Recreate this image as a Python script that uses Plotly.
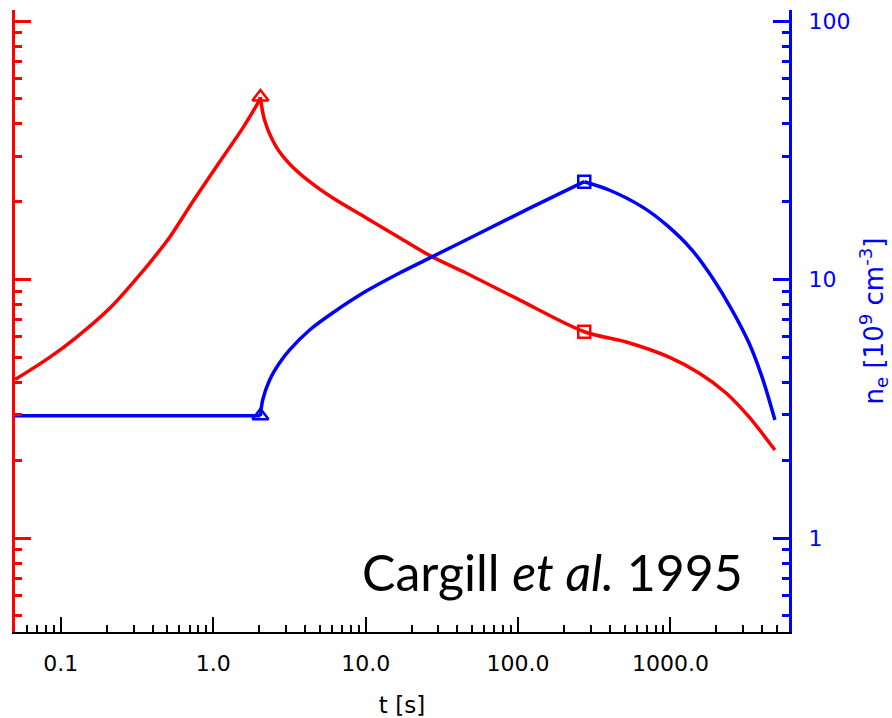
import plotly.graph_objects as go

# ---- data ----
t_T = [0.05, 0.0848, 0.127, 0.210, 0.314, 0.401, 0.519, 0.733, 1.10, 1.56, 1.96, 2.04,
       2.17, 2.59, 3.17, 4.29, 6.06, 10.1, 16.7, 26.2, 45.6, 97.0, 272, 513, 980, 1540,
       2317, 3280, 4850]
T_vals = [4.1, 5.01, 5.99, 7.76, 10.1, 12.0, 14.6, 20.0, 28.5, 38.5, 48.2, 50.8,
          41.4, 32.6, 28.0, 23.9, 20.7, 17.3, 14.5, 12.4, 10.6, 8.47, 6.28, 5.73, 5.01, 4.35,
          3.64, 2.94, 2.19]
T_peak_index = 11

t_n = [0.05, 2.04, 2.11, 2.34, 2.72, 3.17, 4.29, 6.06, 10.1, 16.7, 26.2, 58.4, 124, 272,
       396, 653, 938, 1387, 1876, 2537, 3280, 3990, 4850]
n_vals = [2.97, 2.97, 3.42, 4.08, 4.75, 5.34, 6.38, 7.42, 9.02, 10.6, 12.1, 15.3, 19.1, 23.9,
          22.2, 19.1, 16.3, 13.0, 10.2, 7.62, 5.68, 4.20, 2.86]
n_start_index = 1
n_peak_index = 13

tri_t = [2.04]
tri_T = [50.8]
tri_n = [2.97]
sq_t = [272]
sq_T = [6.28]
sq_n = [23.9]

x_tickvals = [0.1, 1, 10, 100, 1000]
x_ticktext = ["0.1", "1.0", "10.0", "100.0", "1000.0"]
y_tickvals = [1, 10, 100]
y_ticktext = ["1", "10", "100"]

RED = "#FF0000"
BLUE = "#0000FF"


def minor_vals(lo, hi):
    out = []
    for k in range(lo, hi + 1):
        for d in range(2, 10):
            out.append(d * 10 ** k)
    return out


def seg(xs, ys, a, b):
    return xs[a:b + 1], ys[a:b + 1]


fig = go.Figure()

segments = [
    (t_T, T_vals, 0, T_peak_index, RED, "y"),
    (t_T, T_vals, T_peak_index, len(t_T) - 1, RED, "y"),
    (t_n, n_vals, 0, n_start_index, BLUE, "y2"),
    (t_n, n_vals, n_start_index, n_peak_index, BLUE, "y2"),
    (t_n, n_vals, n_peak_index, len(t_n) - 1, BLUE, "y2"),
]
for xs, ys, a, b, col, ax in segments:
    sx, sy = seg(xs, ys, a, b)
    fig.add_trace(go.Scatter(x=sx, y=sy, mode="lines",
                             line=dict(color=col, width=3.5, shape="spline", smoothing=0.9),
                             yaxis=ax, showlegend=False, hoverinfo="skip"))

for xs, ys, sym, size, col, ax in [
    (tri_t, tri_T, "triangle-up-open", 14, RED, "y"),
    (sq_t, sq_T, "square-open", 12, RED, "y"),
    (tri_t, tri_n, "triangle-up-open", 14, BLUE, "y2"),
    (sq_t, sq_n, "square-open", 12, BLUE, "y2"),
]:
    fig.add_trace(go.Scatter(x=xs, y=ys, mode="markers", yaxis=ax, showlegend=False,
                             marker=dict(symbol=sym, size=size, color=col,
                                         line=dict(width=2.5, color=col))))

fig.update_layout(
    width=892, height=718,
    margin=dict(l=15, r=103, t=10, b=86),
    paper_bgcolor="white", plot_bgcolor="white",
    font=dict(family="DejaVu Sans", size=20, color="black"),
    xaxis=dict(
        type="log", range=[-1.30103, 3.778151], showgrid=False, zeroline=False,
        automargin=False,
        showline=True, linecolor="black", linewidth=2,
        ticks="inside", ticklen=15, tickwidth=2, tickcolor="black",
        tickmode="array", tickvals=x_tickvals, ticktext=x_ticktext,
        ticklabelstandoff=11,
        tickfont=dict(family="DejaVu Sans", size=22, color="black"),
        minor=dict(tickmode="array", tickvals=minor_vals(-2, 3), ticks="inside",
                   ticklen=7, tickwidth=2, tickcolor="black", showgrid=False),
        title=dict(text="t [s]", font=dict(family="DejaVu Sans", size=23, color="black"), standoff=36),
    ),
    yaxis=dict(
        type="log", range=[-0.3635, 2.0426], showgrid=False, zeroline=False,
        automargin=False,
        showline=True, linecolor=RED, linewidth=3, side="left",
        ticks="inside", ticklen=16, tickwidth=2.5, tickcolor=RED,
        tickmode="array", tickvals=y_tickvals, showticklabels=False,
        minor=dict(tickmode="array", tickvals=minor_vals(-1, 2), ticks="inside",
                   ticklen=7, tickwidth=2.5, tickcolor=RED, showgrid=False),
    ),
    yaxis2=dict(
        type="log", range=[-0.3635, 2.0426], showgrid=False, zeroline=False,
        overlaying="y", side="right", automargin=False,
        showline=True, linecolor=BLUE, linewidth=3,
        ticks="inside", ticklen=16, tickwidth=2.5, tickcolor=BLUE,
        tickmode="array", tickvals=y_tickvals, ticktext=y_ticktext,
        ticklabelstandoff=12,
        tickfont=dict(family="DejaVu Sans", size=22, color=BLUE),
        minor=dict(tickmode="array", tickvals=minor_vals(-1, 2), ticks="inside",
                   ticklen=7, tickwidth=2.5, tickcolor=BLUE, showgrid=False),
        title=dict(text="n<sub>e</sub> [10<sup>9</sup> cm<sup>-3</sup>]",
                   font=dict(family="DejaVu Sans", size=26, color=BLUE), standoff=20),
    ),
    annotations=[dict(
        text="Cargill <i>et al.</i> 1995", x=0.694, y=0.097, xref="paper", yref="paper",
        xanchor="center", yanchor="middle", showarrow=False,
        font=dict(family="Lato", size=50, color="black"),
    )],
)

fig.write_html("out.html")
